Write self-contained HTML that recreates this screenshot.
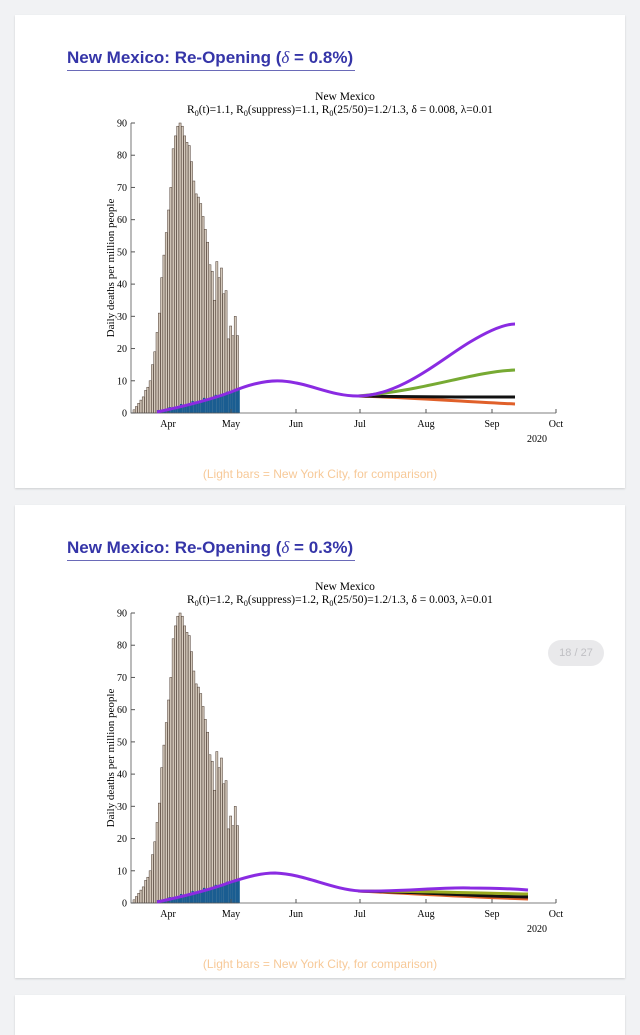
<!DOCTYPE html>
<html><head><meta charset="utf-8"><style>
body{margin:0;background:#f1f2f4;width:640px;height:1024px;overflow:hidden;position:relative;font-family:"Liberation Sans",sans-serif}
.card{position:absolute;left:15px;width:610px;background:#fff;box-shadow:0 1px 2px rgba(0,0,0,.15)}
.t{position:absolute;left:52px;top:33px;font-weight:bold;font-size:17px;color:#3535a8;border-bottom:1.5px solid #6a6ab8;padding:0 2px 2px 0}
.t i{font-family:"Liberation Serif",serif;font-weight:normal}
.f{position:absolute;left:0;width:610px;text-align:center;top:452px;font-size:12px;color:#f7c998}
.pill{position:absolute;left:548px;top:640px;width:56px;height:26px;border-radius:13px;background:#e9e9eb;color:#c0c0c4;font-size:11px;text-align:center;line-height:26px;z-index:5}
svg{position:absolute;left:0;top:0}
</style></head><body>
<div class="card" style="top:15px;height:473px"><div class="t">New Mexico: Re-Opening (<i>δ</i> = 0.8%)</div><div class="f">(Light bars = New York City, for comparison)</div></div>
<div class="card" style="top:505px;height:473px"><div class="t">New Mexico: Re-Opening (<i>δ</i> = 0.3%)</div><div class="f">(Light bars = New York City, for comparison)</div></div>
<div class="card" style="top:995px;height:40px"></div>
<svg id="s" width="640" height="1024" font-family="Liberation Serif,serif"></svg>
<div class="pill">18 / 27</div>
<script>
var nyc=[1,2,3,4,5,7,8,10,15,19,25,31,42,49,56,63,70,82,86,89,90,89,86,84,83,78,72,68,67,65,61,57,53,46,44,35,47,42,45,37,38,23,27,24,30,24];
var h='';
function chart(o,p){
 var y0=413+o,sc=290/90;
 h+='<text x="345" y="'+(100+o)+'" font-size="11.5" text-anchor="middle">New Mexico</text>';
 h+='<text x="340" y="'+(113+o)+'" font-size="11.5" text-anchor="middle">R<tspan font-size="8" dy="3">0</tspan><tspan dy="-3">(t)='+p.r+',  R</tspan><tspan font-size="8" dy="3">0</tspan><tspan dy="-3">(suppress)='+p.r+',  R</tspan><tspan font-size="8" dy="3">0</tspan><tspan dy="-3">(25/50)=1.2/1.3, δ = '+p.d+', λ=0.01</tspan></text>';
 for(var i=0;i<nyc.length;i++){var x=133+i*2.3,v=nyc[i]*sc;h+='<rect x="'+x+'" y="'+(y0-v)+'" width="2.1" height="'+v+'" fill="#d4c9bc" stroke="#4a3a30" stroke-width="0.5"/>';}
 for(var i=0;i<36;i++){var x=157+i*2.3,v=(0.3+i*0.19+(i%5==0?0.6:0))*sc;h+='<rect x="'+x+'" y="'+(y0-v)+'" width="2.3" height="'+v+'" fill="#1a5d91"/>';}
 h+='<path d="M131 '+(123+o)+'V'+y0+'H556" fill="none" stroke="#555" stroke-width="0.8"/>';
 for(var k=0;k<=9;k++){var y=y0-k*10*sc;h+='<line x1="131" x2="135" y1="'+y+'" y2="'+y+'" stroke="#555"/><text x="127" y="'+(y+3.5)+'" font-size="10" text-anchor="end">'+k*10+'</text>';}
 [['Apr',168],['May',231],['Jun',296],['Jul',360],['Aug',426],['Sep',492],['Oct',556]].forEach(function(m){h+='<line x1="'+m[1]+'" x2="'+m[1]+'" y1="'+y0+'" y2="'+(y0-4)+'" stroke="#555"/><text x="'+m[1]+'" y="'+(y0+14)+'" font-size="10" text-anchor="middle">'+m[0]+'</text>';});
 h+='<text x="537" y="'+(y0+29)+'" font-size="10" text-anchor="middle">2020</text>';
 h+='<text transform="translate(114,'+(268+o)+') rotate(-90)" font-size="11" text-anchor="middle">Daily deaths per million people</text>';
 p.c.forEach(function(c){h+='<path d="'+c[1]+'" fill="none" stroke="'+c[0]+'" stroke-width="3"/>';});
}
chart(0,{r:'1.1',d:'0.008',c:[
['#e0602a','M358 396C420 398 470 402 515 404'],
['#111','M358 396C420 397 470 397 515 397'],
['#77aa33','M358 396C430 390 470 372 515 370'],
['#8a2be2','M157 412C190 405 215 398 231 392C250 384 268 380 282 381C310 383 330 396 358 396C400 396 440 360 470 342C490 330 505 324 515 324']]});
chart(490,{r:'1.2',d:'0.003',c:[
['#e0602a','M358 891C420 894 470 897 528 899'],
['#111','M358 891C420 892 470 896 528 897'],
['#99aa22','M358 891C420 891 470 893 528 894'],
['#8a2be2','M157 902C190 895 215 888 231 882C250 876 262 873 275 873C305 874 330 889 360 891C400 892 440 887 470 888C495 888 515 889 528 890']]});
document.getElementById('s').innerHTML=h;
</script>
</body></html>
